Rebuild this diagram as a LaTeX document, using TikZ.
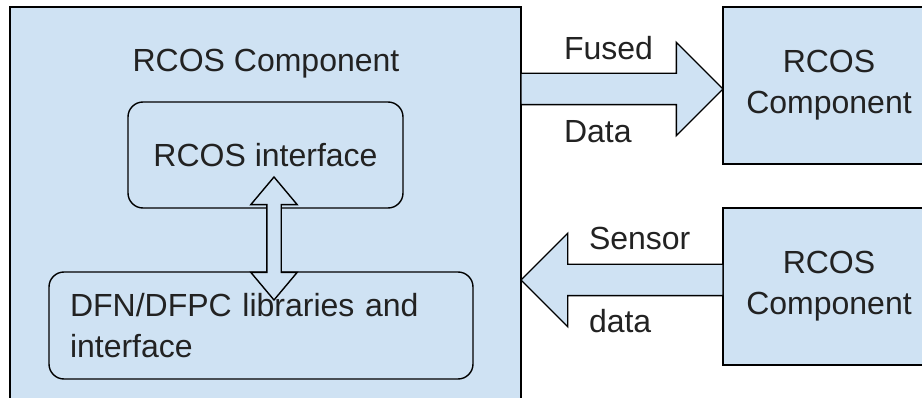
\documentclass[tikz,border=0pt]{standalone}
\usepackage{fontspec}
\setmainfont{Liberation Sans}
\usetikzlibrary{positioning,shapes.arrows}
\definecolor{boxblue}{HTML}{CFE2F3}
\definecolor{inkgray}{HTML}{222222}

\begin{document}
\begin{tikzpicture}[x=1pt,y=-1pt,
	every node/.style={font=\fontsize{32}{41}\selectfont,text=inkgray,inner sep=0pt,outer sep=0pt},
	block/.style={rectangle,draw=black,fill=boxblue,line width=1.4pt,align=center},
	inner block/.style={rectangle,draw=black,line width=1.4pt,rounded corners=15pt},
	fat arrow/.style={single arrow,draw=black,fill=boxblue,line width=1.4pt,inner xsep=0pt,inner ysep=15pt,
		single arrow head extend=31pt,minimum height=202pt}]

	\useasboundingbox (0,0) rectangle (922,398);

	% outer component with its two parts
	\node[block,minimum width=511pt,minimum height=403pt] (main) at (265.5,208.5) {};
	\node[anchor=base] (title) at (266,72) {RCOS Component};
	\node[inner block,minimum width=275pt,minimum height=106pt] (iface) at (265.5,155) {RCOS interface};
	\node[inner block,text width=382pt,inner xsep=21pt,minimum height=107pt,align=left] (dfn) at (261,325.5) {DFN/DFPC libraries and\\interface};

	% neighbouring components
	\node[block,minimum width=212pt,minimum height=157pt] (fusion) at (829,85.5) {RCOS\\Component};
	\node[block,minimum width=212pt,minimum height=157pt] (source) at (829,286.5) {RCOS\\Component};

	% data flow between them
	\node[fat arrow,anchor=tail] (fused) at (main.east |- 0,89) {};
	\node[fat arrow,shape border rotate=180,anchor=tip] (sensed) at (main.east |- 0,280) {};
	\node[double arrow,draw=black,fill=boxblue,line width=1.4pt,shape border rotate=90,inner sep=6.5pt,
		double arrow head extend=16pt,double arrow tip angle=80,minimum height=123pt] (link) at (274,238.5) {};

	\node[anchor=base west] (fusedtop) at (564,60) {Fused};
	\node[anchor=base west] (fusedbot) at (564,143) {Data};
	\node[anchor=base west] (sensedtop) at (589,250) {Sensor};
	\node[anchor=base west] (sensedbot) at (589,333) {data};
\end{tikzpicture}
\end{document}
